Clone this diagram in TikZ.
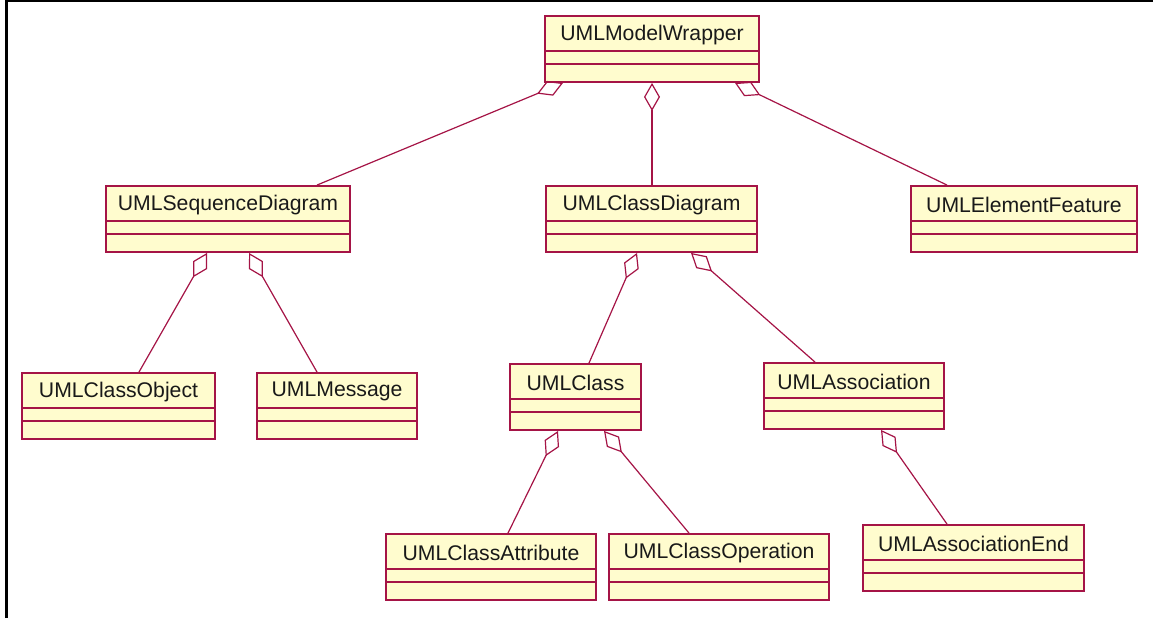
\documentclass[tikz,border=0pt]{standalone}
\usepackage{fontspec}
\setmainfont{Liberation Sans}
\usetikzlibrary{arrows.meta,calc,fit}
\definecolor{umlred}{RGB}{165,20,70}
\definecolor{umlfill}{RGB}{255,252,206}
\definecolor{umltext}{RGB}{25,25,25}
\newcommand\umlclass[6]{%
  \node[cls, fit={(#2,#3) (#4,#5)}] (#1) {};
  \node[ttl] (#1-t) at ($(#1.north)+(0,19.5)$) {#6};
  \draw[cpt] ($(#1.north west)+(0,36)$) -- ($(#1.north east)+(0,36)$);
  \draw[cpt] ($(#1.north west)+(0,49)$) -- ($(#1.north east)+(0,49)$);
}
\begin{document}
\begin{tikzpicture}[x=0.75pt,y=-0.75pt,
  cls/.style={draw=umlred, fill=umlfill, line width=1.4pt, inner sep=0pt},
  cpt/.style={draw=umlred, line width=1.3pt},
  ttl/.style={text=umltext, inner sep=0pt, font=\fontsize{15.9}{18}\selectfont},
  agg/.style={draw=umlred, line width=0.9pt, arrows={Diamond[open,length=21pt,width=12pt]-}},
  frame/.style={draw=black, line width=2.2pt}]
\useasboundingbox[fill=white] (0,0) rectangle (1153,618);
\coordinate (ftl) at (6.5,1);
\coordinate (ftr) at (1153,1);
\coordinate (fbl) at (6.5,618);
\draw[frame] (fbl) -- (ftl) -- (ftr);

\umlclass{mw}{545}{16}{759}{82}{UMLModelWrapper}
\umlclass{seq}{106}{186}{350}{252}{UMLSequenceDiagram}
\umlclass{cd}{546}{186}{757}{252}{UMLClassDiagram}
\umlclass{ef}{911}{186}{1137}{252}{UMLElementFeature}
\umlclass{co}{22}{373}{215}{439}{UMLClassObject}
\umlclass{msg}{257}{373}{417}{439}{UMLMessage}
\umlclass{cls}{510}{364}{641}{430}{UMLClass}
\umlclass{assoc}{764}{363}{944}{429}{UMLAssociation}
\umlclass{attr}{386}{534}{596}{600}{UMLClassAttribute}
\umlclass{op}{609}{534}{829}{600}{UMLClassOperation}
\umlclass{ae}{863}{525}{1084}{591}{UMLAssociationEnd}

\draw[agg] (mw.south -| 563,0) -- (seq.north -| 317,0);
\draw[agg] (mw.south -| 652,0) -- (cd.north -| 652,0);
\draw[agg] (mw.south -| 735,0) -- (ef.north -| 947,0);
\draw[agg] (seq.south -| 207,0) -- (co.north -| 139,0);
\draw[agg] (seq.south -| 249,0) -- (msg.north -| 317,0);
\draw[agg] (cd.south -| 637,0) -- (cls.north -| 589,0);
\draw[agg] (cd.south -| 691,0) -- (assoc.north -| 815,0);
\draw[agg] (cls.south -| 558,0) -- (attr.north -| 508,0);
\draw[agg] (cls.south -| 604,0) -- (op.north -| 689,0);
\draw[agg] (assoc.south -| 881,0) -- (ae.north -| 947,0);
\end{tikzpicture}
\end{document}
